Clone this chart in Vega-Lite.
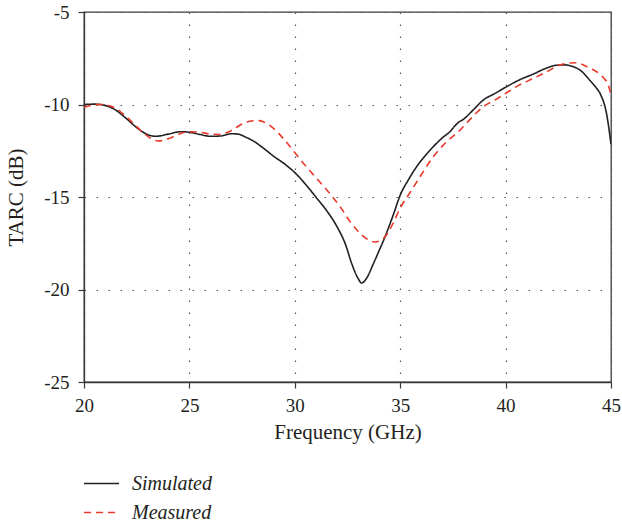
{
  "$schema": "https://vega.github.io/schema/vega-lite/v6.json",
  "width": 527,
  "height": 370,
  "autosize": {"type": "none"},
  "padding": {"left": 84, "top": 12, "right": 11, "bottom": 143},
  "background": "white",
  "config": {
    "view": {"stroke": "#3a3a3a", "strokeWidth": 1.3},
    "font": "Liberation Serif",
    "axis": {
      "labelFont": "Liberation Serif",
      "titleFont": "Liberation Serif",
      "labelFontSize": 19,
      "titleFontSize": 21,
      "titleFontWeight": "normal",
      "labelColor": "#231f20",
      "titleColor": "#231f20",
      "domainColor": "#3a3a3a",
      "domainWidth": 1.3,
      "tickColor": "#3a3a3a",
      "tickWidth": 1.2,
      "tickSize": 6,
      "grid": true,
      "gridColor": "#555555",
      "gridDash": [1.5, 10.5],
      "gridWidth": 1.2,
      "labelFlush": false,
      "labelOverlap": false
    }
  },
  "data": {
    "values": [
      {"f": 20.0, "db": -10.0, "series": "Simulated"},
      {"f": 20.5, "db": -9.98, "series": "Simulated"},
      {"f": 21.0, "db": -10.05, "series": "Simulated"},
      {"f": 21.5, "db": -10.3, "series": "Simulated"},
      {"f": 22.0, "db": -10.75, "series": "Simulated"},
      {"f": 22.5, "db": -11.25, "series": "Simulated"},
      {"f": 23.0, "db": -11.62, "series": "Simulated"},
      {"f": 23.4, "db": -11.72, "series": "Simulated"},
      {"f": 24.0, "db": -11.6, "series": "Simulated"},
      {"f": 24.6, "db": -11.47, "series": "Simulated"},
      {"f": 25.0, "db": -11.5, "series": "Simulated"},
      {"f": 25.5, "db": -11.62, "series": "Simulated"},
      {"f": 26.0, "db": -11.72, "series": "Simulated"},
      {"f": 26.5, "db": -11.7, "series": "Simulated"},
      {"f": 27.0, "db": -11.58, "series": "Simulated"},
      {"f": 27.3, "db": -11.6, "series": "Simulated"},
      {"f": 27.7, "db": -11.78, "series": "Simulated"},
      {"f": 28.0, "db": -11.95, "series": "Simulated"},
      {"f": 28.5, "db": -12.35, "series": "Simulated"},
      {"f": 29.0, "db": -12.8, "series": "Simulated"},
      {"f": 29.5, "db": -13.2, "series": "Simulated"},
      {"f": 30.0, "db": -13.68, "series": "Simulated"},
      {"f": 30.5, "db": -14.3, "series": "Simulated"},
      {"f": 31.0, "db": -15.0, "series": "Simulated"},
      {"f": 31.5, "db": -15.72, "series": "Simulated"},
      {"f": 32.0, "db": -16.6, "series": "Simulated"},
      {"f": 32.4, "db": -17.55, "series": "Simulated"},
      {"f": 32.7, "db": -18.6, "series": "Simulated"},
      {"f": 33.0, "db": -19.4, "series": "Simulated"},
      {"f": 33.17, "db": -19.65, "series": "Simulated"},
      {"f": 33.4, "db": -19.4, "series": "Simulated"},
      {"f": 33.73, "db": -18.6, "series": "Simulated"},
      {"f": 34.0, "db": -17.9, "series": "Simulated"},
      {"f": 34.28, "db": -17.15, "series": "Simulated"},
      {"f": 34.67, "db": -15.97, "series": "Simulated"},
      {"f": 35.0, "db": -14.9, "series": "Simulated"},
      {"f": 35.4, "db": -14.05, "series": "Simulated"},
      {"f": 35.78, "db": -13.36, "series": "Simulated"},
      {"f": 36.2, "db": -12.75, "series": "Simulated"},
      {"f": 36.57, "db": -12.28, "series": "Simulated"},
      {"f": 37.0, "db": -11.8, "series": "Simulated"},
      {"f": 37.36, "db": -11.47, "series": "Simulated"},
      {"f": 37.6, "db": -11.15, "series": "Simulated"},
      {"f": 37.75, "db": -10.98, "series": "Simulated"},
      {"f": 38.0, "db": -10.8, "series": "Simulated"},
      {"f": 38.5, "db": -10.25, "series": "Simulated"},
      {"f": 38.94, "db": -9.76, "series": "Simulated"},
      {"f": 39.5, "db": -9.4, "series": "Simulated"},
      {"f": 40.0, "db": -9.07, "series": "Simulated"},
      {"f": 40.6, "db": -8.7, "series": "Simulated"},
      {"f": 41.32, "db": -8.35, "series": "Simulated"},
      {"f": 41.9, "db": -8.05, "series": "Simulated"},
      {"f": 42.4, "db": -7.88, "series": "Simulated"},
      {"f": 42.8, "db": -7.86, "series": "Simulated"},
      {"f": 43.2, "db": -7.95, "series": "Simulated"},
      {"f": 43.6, "db": -8.2, "series": "Simulated"},
      {"f": 44.0, "db": -8.7, "series": "Simulated"},
      {"f": 44.3, "db": -9.1, "series": "Simulated"},
      {"f": 44.5, "db": -9.45, "series": "Simulated"},
      {"f": 44.79, "db": -10.5, "series": "Simulated"},
      {"f": 45.0, "db": -12.14, "series": "Simulated"},
      {"f": 20.0, "db": -10.15, "series": "Measured"},
      {"f": 20.3, "db": -10.05, "series": "Measured"},
      {"f": 20.7, "db": -10.0, "series": "Measured"},
      {"f": 21.0, "db": -10.02, "series": "Measured"},
      {"f": 21.5, "db": -10.2, "series": "Measured"},
      {"f": 22.0, "db": -10.65, "series": "Measured"},
      {"f": 22.5, "db": -11.2, "series": "Measured"},
      {"f": 23.0, "db": -11.7, "series": "Measured"},
      {"f": 23.5, "db": -11.97, "series": "Measured"},
      {"f": 24.0, "db": -11.85, "series": "Measured"},
      {"f": 24.5, "db": -11.6, "series": "Measured"},
      {"f": 25.0, "db": -11.47, "series": "Measured"},
      {"f": 25.5, "db": -11.5, "series": "Measured"},
      {"f": 26.0, "db": -11.6, "series": "Measured"},
      {"f": 26.4, "db": -11.62, "series": "Measured"},
      {"f": 27.0, "db": -11.4, "series": "Measured"},
      {"f": 27.5, "db": -11.05, "series": "Measured"},
      {"f": 28.0, "db": -10.88, "series": "Measured"},
      {"f": 28.3, "db": -10.87, "series": "Measured"},
      {"f": 28.7, "db": -11.05, "series": "Measured"},
      {"f": 29.0, "db": -11.3, "series": "Measured"},
      {"f": 29.5, "db": -11.9, "series": "Measured"},
      {"f": 30.0, "db": -12.6, "series": "Measured"},
      {"f": 30.5, "db": -13.3, "series": "Measured"},
      {"f": 31.0, "db": -13.95, "series": "Measured"},
      {"f": 31.5, "db": -14.6, "series": "Measured"},
      {"f": 31.83, "db": -15.05, "series": "Measured"},
      {"f": 32.2, "db": -15.6, "series": "Measured"},
      {"f": 32.62, "db": -16.33, "series": "Measured"},
      {"f": 33.0, "db": -16.85, "series": "Measured"},
      {"f": 33.4, "db": -17.25, "series": "Measured"},
      {"f": 33.8, "db": -17.43, "series": "Measured"},
      {"f": 34.28, "db": -17.15, "series": "Measured"},
      {"f": 34.67, "db": -16.4, "series": "Measured"},
      {"f": 35.0, "db": -15.6, "series": "Measured"},
      {"f": 35.5, "db": -14.7, "series": "Measured"},
      {"f": 36.0, "db": -13.8, "series": "Measured"},
      {"f": 36.57, "db": -12.82, "series": "Measured"},
      {"f": 37.0, "db": -12.25, "series": "Measured"},
      {"f": 37.36, "db": -11.85, "series": "Measured"},
      {"f": 37.76, "db": -11.47, "series": "Measured"},
      {"f": 38.4, "db": -10.7, "series": "Measured"},
      {"f": 38.94, "db": -10.12, "series": "Measured"},
      {"f": 39.5, "db": -9.75, "series": "Measured"},
      {"f": 40.0, "db": -9.4, "series": "Measured"},
      {"f": 40.6, "db": -8.98, "series": "Measured"},
      {"f": 41.32, "db": -8.59, "series": "Measured"},
      {"f": 42.0, "db": -8.2, "series": "Measured"},
      {"f": 42.58, "db": -7.86, "series": "Measured"},
      {"f": 43.3, "db": -7.74, "series": "Measured"},
      {"f": 44.0, "db": -8.04, "series": "Measured"},
      {"f": 44.5, "db": -8.4, "series": "Measured"},
      {"f": 44.87, "db": -8.95, "series": "Measured"},
      {"f": 45.0, "db": -9.49, "series": "Measured"}
    ]
  },
  "mark": {"type": "line", "interpolate": "monotone", "strokeWidth": 1.6, "clip": true},
  "encoding": {
    "x": {
      "field": "f",
      "type": "quantitative",
      "scale": {"domain": [20, 45], "nice": false, "zero": false},
      "axis": {
        "values": [20, 25, 30, 35, 40, 45],
        "title": "Frequency (GHz)",
        "labelPadding": 8,
        "titlePadding": 6
      }
    },
    "y": {
      "field": "db",
      "type": "quantitative",
      "scale": {"domain": [-25, -5], "nice": false, "zero": false},
      "axis": {
        "values": [-25, -20, -15, -10, -5],
        "labelExpr": "datum.value + ''",
        "title": "TARC (dB)",
        "labelPadding": 9,
        "titlePadding": 17
      }
    },
    "color": {
      "field": "series",
      "type": "nominal",
      "scale": {"domain": ["Simulated", "Measured"], "range": ["#231f20", "#e8392a"]},
      "legend": {
        "title": null,
        "orient": "none",
        "legendX": -1,
        "legendY": 453,
        "symbolType": "stroke",
        "symbolSize": 1225,
        "symbolStrokeWidth": 1.5,
        "labelFont": "Liberation Serif",
        "labelFontStyle": "italic",
        "labelFontSize": 20,
        "labelColor": "#231f20",
        "labelOffset": 12,
        "rowPadding": -5
      }
    },
    "strokeDash": {
      "field": "series",
      "type": "nominal",
      "scale": {"domain": ["Simulated", "Measured"], "range": [[1, 0], [7, 5]]},
      "legend": {
        "title": null,
        "orient": "none",
        "legendX": -1,
        "legendY": 453,
        "symbolType": "stroke",
        "symbolSize": 1225,
        "symbolStrokeWidth": 1.5,
        "labelFont": "Liberation Serif",
        "labelFontStyle": "italic",
        "labelFontSize": 20,
        "labelColor": "#231f20",
        "labelOffset": 12,
        "rowPadding": -5
      }
    }
  }
}
